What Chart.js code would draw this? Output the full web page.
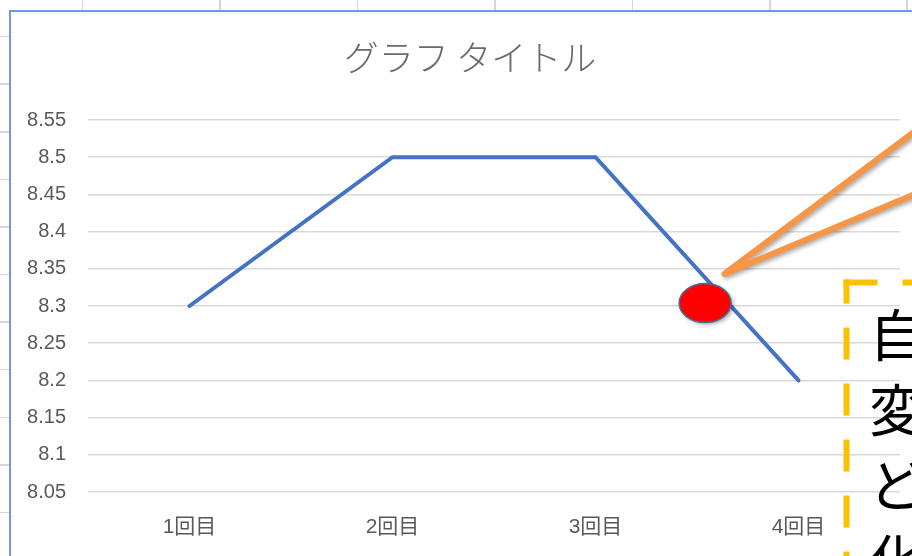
<!DOCTYPE html>
<html lang="ja">
<head>
<meta charset="utf-8">
<title>グラフ タイトル</title>
<script src="https://cdn.jsdelivr.net/npm/chart.js@4.4.1/dist/chart.umd.min.js"></script>
<style>
    html, body { margin: 0; padding: 0; }
    /* spreadsheet cells behind the chart */
    body {
        width: 912px;
        height: 556px;
        overflow: hidden;
        position: relative;
        background-color: #fff;
        background-image:
            repeating-linear-gradient(to right, transparent 0 82px, #d6d6d6 82px 83.5px, transparent 83.5px 137.4px),
            repeating-linear-gradient(to bottom, transparent 0 35.8px, #d6d6d6 35.8px 37.3px, transparent 37.3px 47.6px);
    }
    #box {
        position: absolute;
        left: 9px;
        top: 10px;
        width: 918px;
        height: 560px;
        border: 2px solid #6c9ae2;
        background: #fff;
    }
    canvas { display: block; }
</style>
</head>
<body>
<div id="box"><canvas id="chart" width="918" height="560"></canvas></div>
<script>
// data
const categories = ['1回目', '2回目', '3回目', '4回目'];
const values = [8.3, 8.5, 8.5, 8.2];
const yTicks = [8.05, 8.1, 8.15, 8.2, 8.25, 8.3, 8.35, 8.4, 8.45, 8.5, 8.55];
const calloutText = ['自', '変', 'ど', '化'];

// where the drawn shapes sit (category index / value)
const markerAt = { x: 2.54, y: 8.304 };
const pointerAt = { x: 2.635, y: 8.343 };

// shapes that were drawn on top of the chart
const shapes = {
    id: 'shapes',
    afterDraw(chart) {
        const { ctx, scales: { x, y } } = chart;

        // orange pointer lines
        const tx = x.getPixelForValue(pointerAt.x);
        const ty = y.getPixelForValue(pointerAt.y);
        ctx.save();
        ctx.shadowColor = 'rgba(0, 0, 0, 0.35)';
        ctx.shadowBlur = 4;
        ctx.shadowOffsetX = 2;
        ctx.shadowOffsetY = 2;
        ctx.strokeStyle = '#f79646';
        ctx.lineWidth = 6;
        ctx.lineCap = 'round';
        ctx.lineJoin = 'round';
        ctx.beginPath();
        ctx.moveTo(tx + 215, ty - 161);
        ctx.lineTo(tx, ty);
        ctx.lineTo(tx + 215, ty - 90);
        ctx.stroke();

        // red ellipse
        const ex = x.getPixelForValue(markerAt.x);
        const ey = y.getPixelForValue(markerAt.y);
        ctx.beginPath();
        ctx.ellipse(ex, ey, 26, 19.5, 0, 0, Math.PI * 2);
        ctx.fillStyle = '#ff0000';
        ctx.fill();
        ctx.shadowColor = 'transparent';
        ctx.strokeStyle = '#41719c';
        ctx.lineWidth = 1.5;
        ctx.stroke();
        ctx.restore();

        // dashed yellow text box
        ctx.save();
        ctx.strokeStyle = '#ffc000';
        ctx.lineWidth = 6;
        ctx.lineCap = 'butt';
        ctx.setLineDash([34, 25]);
        ctx.beginPath();
        ctx.moveTo(832.5, 270.5);
        ctx.lineTo(940, 270.5);
        ctx.stroke();
        ctx.setLineDash([32, 24]);
        ctx.lineDashOffset = 8;
        ctx.beginPath();
        ctx.moveTo(835.5, 267.5);
        ctx.lineTo(835.5, 600);
        ctx.stroke();
        ctx.restore();

        ctx.save();
        ctx.fillStyle = '#000';
        ctx.font = '56px "Noto Sans CJK JP"';
        ctx.textBaseline = 'middle';
        calloutText.forEach((t, i) => ctx.fillText(t, 858, 323 + i * 75));
        ctx.restore();
    }
};

new Chart(document.getElementById('chart'), {
    type: 'line',
    data: {
        labels: categories,
        datasets: [{
            data: values,
            borderColor: '#4472c4',
            borderWidth: 4,
            borderCapStyle: 'round',
            pointRadius: 0,
            tension: 0
        }]
    },
    options: {
        responsive: false,
        animation: false,
        layout: { padding: { left: 0, right: 0, top: 0, bottom: 18 } },
        plugins: {
            legend: { display: false },
            tooltip: { enabled: false },
            title: {
                display: true,
                text: 'グラフ タイトル',
                color: '#6b6b6b',
                font: { family: '"Noto Sans CJK JP"', size: 35, weight: '300', lineHeight: 1.2 },
                padding: { top: 25, bottom: 41 }
            }
        },
        scales: {
            x: {
                offset: true,
                grid: { display: false },
                border: { display: false },
                ticks: {
                    color: '#595959',
                    font: { family: '"Liberation Sans", "Noto Sans CJK JP"', size: 21, lineHeight: 1.2 },
                    padding: 14.4,
                    maxRotation: 0
                }
            },
            y: {
                min: 8.05,
                max: 8.55,
                afterBuildTicks: s => { s.ticks = yTicks.map(v => ({ value: v })); },
                afterFit: s => { s.width = 77; },
                grid: { color: '#d9d9d9', lineWidth: 1.5, drawTicks: false },
                border: { display: false },
                ticks: {
                    color: '#595959',
                    font: { family: '"Liberation Sans"', size: 20 },
                    padding: 22,
                    callback: v => String(+v.toFixed(2))
                }
            },
            // empty strip on the right so the plot ends where it does in the picture
            yRight: {
                position: 'right',
                grid: { display: false },
                border: { display: false },
                ticks: { display: false },
                afterFit: s => { s.width = 29; }
            }
        }
    },
    plugins: [shapes]
});
</script>
</body>
</html>
